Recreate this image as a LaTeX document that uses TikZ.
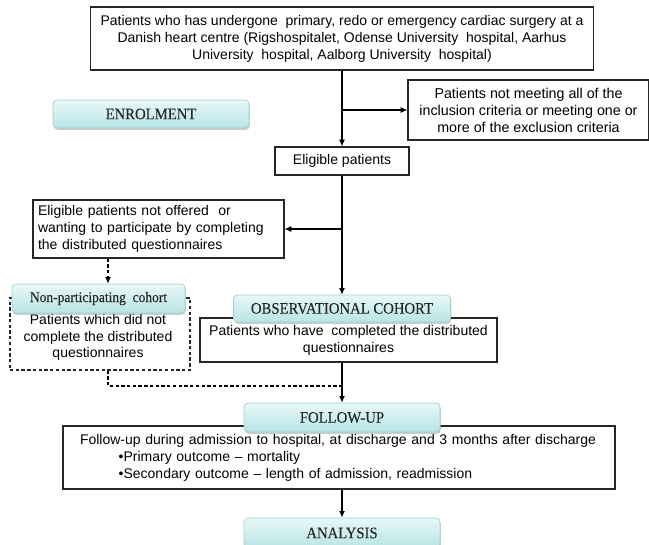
\documentclass[tikz,border=0pt]{standalone}
\usepackage{fontspec}
\setmainfont{Liberation Sans}
\newfontfamily\lblfont{Liberation Serif}[FakeStretch=0.92,FakeBold=0.12]
\usetikzlibrary{arrows.meta,shadows,calc}
\definecolor{lbltop}{HTML}{E8F8F8}
\definecolor{lblbot}{HTML}{B8E4E4}
\definecolor{lbledge}{HTML}{9ECFCF}
\begin{document}
\begin{tikzpicture}[x=0.75pt,y=-0.75pt,
  wh/.style 2 args={minimum width=#1*0.75pt,minimum height=#2*0.75pt},
  box/.style={draw=black!85,line width=0.9pt,fill=white,inner sep=0pt,align=center,
    font=\fontsize{10.5}{12.75}\selectfont},
  lbl/.style={draw=lbledge,line width=0.5pt,rounded corners=3pt,top color=lbltop,bottom color=lblbot,
    drop shadow={shadow xshift=0.6pt,shadow yshift=-1.4pt,opacity=0.4},
    inner sep=0pt,text=black!85,font=\lblfont\fontsize{12}{14}\selectfont},
  conn/.style={line width=0.9pt,-{Latex[length=5pt,width=4.5pt]}},
  dconn/.style={line width=0.9pt,dash pattern=on 2.5pt off 1.8pt},
]
\useasboundingbox (0,0) rectangle (649,545);
\clip (0,0) rectangle (649,545);

% boxes
\node[box,wh={503}{63}] (top) at (342,38.5)
  {Patients who has undergone\ \ primary, redo or emergency cardiac surgery at a\\
   Danish heart centre (Rigshospitalet, Odense University\ \ hospital, Aarhus\\
   University\ \ hospital, Aalborg University\ \ hospital)};
\node[box,wh={241}{60},font=\fontsize{10.7}{12.75}\selectfont] (excl) at (528.5,110)
  {Patients not meeting all of the\\inclusion criteria or meeting one or\\more of the exclusion criteria};
\node[box,wh={134}{28}] (elig) at (342,161) {Eligible patients};
\node[box,wh={251}{58},text width=241*0.75pt,align=left,inner xsep=5*0.75pt] (notoff) at (158.5,229)
  {Eligible patients not offered\ \ or\\wanting to participate by completing\\the distributed questionnaires};
\node[box,dconn,wh={180}{72}] (nonbox) at (100,334) {};
\node[font=\fontsize{10.5}{12.5}\selectfont,align=center] (nontext) at (98,337.5)
  {Patients which did not\\complete the distributed\\questionnaires};
\node[box,wh={297}{44}] (done) at (348.5,340)
  {Patients who have\ \ completed the distributed\\questionnaires};
\node[box,wh={552}{63},text width=518*0.75pt,align=left] (fbox) at (339,457.5)
  {Follow-up during admission to hospital, at discharge and 3 months after discharge\\
   \hspace*{29pt}\textbullet Primary outcome -- mortality\\
   \hspace*{29pt}\textbullet Secondary outcome -- length of admission, readmission};

% labels
\node[lbl,wh={196}{28}] (enrol) at (151,114) {ENROLMENT};
\node[lbl,wh={173}{29},font=\lblfont\fontsize{11}{13}\selectfont] (nonpart) at (98.5,298.5) {Non-participating\ \ cohort};
\node[lbl,wh={217}{27}] (obs) at (342,308.5) {OBSERVATIONAL COHORT};
\node[lbl,wh={196}{29}] (follow) at (342,417.5) {FOLLOW-UP};
\node[lbl,wh={196}{30}] (analysis) at (342,533) {ANALYSIS};

% connectors
\coordinate (dx) at (108,0);
\coordinate (merge) at (342,386);
\draw[conn] (top.south) -- (elig.north);
\draw[conn] (top.south |- excl.west) -- (excl.west);
\draw[conn] (elig.south) -- (obs.north);
\draw[conn] (elig.south |- notoff.east) -- (notoff.east);
\draw[dconn,-{Latex[length=5pt,width=4.5pt]}] (notoff.south -| dx) -- (nonpart.north -| dx);
\draw[dconn] (nonbox.south -| dx) |- (merge);
\draw[conn] (done.south -| follow.north) -- (follow.north);
\draw[conn] (fbox.south -| follow.south) -- (analysis.north);
\end{tikzpicture}
\end{document}
